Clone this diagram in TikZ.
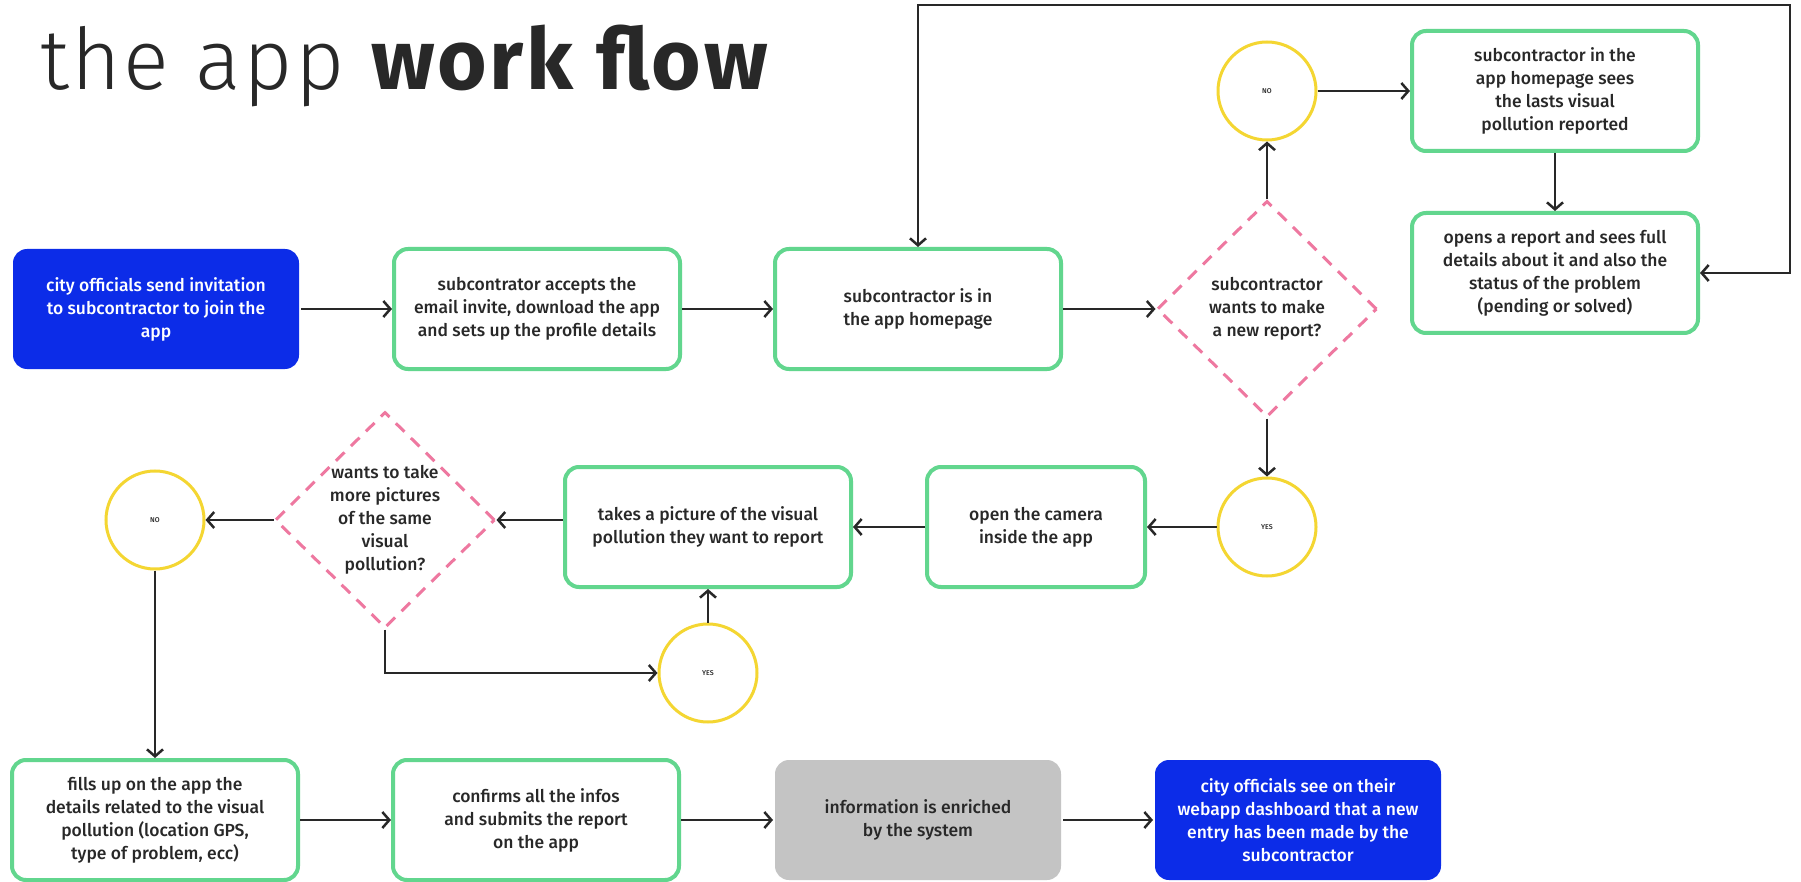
\documentclass[tikz,border=0pt]{standalone}
\usepackage{fontspec}
\usetikzlibrary{shapes.geometric, arrows.meta}

\IfFontExistsTF{Fira Sans Medium}{\newfontfamily\bodyfont{Fira Sans Medium}}{\newfontfamily\bodyfont{Fira Sans}}
\IfFontExistsTF{Fira Sans Light}{\newfontfamily\titlelight{Fira Sans Light}[LetterSpace=3]}{\newfontfamily\titlelight{Fira Sans}[LetterSpace=3]}
\newfontfamily\titlefont{Fira Sans}[LetterSpace=3]

\definecolor{flowblue}{RGB}{12,44,232}
\definecolor{flowgreen}{RGB}{98,214,142}
\definecolor{flowpink}{RGB}{238,120,160}
\definecolor{flowyellow}{RGB}{244,214,50}
\definecolor{flowgrey}{RGB}{196,196,196}
\definecolor{textdark}{RGB}{40,40,40}

\newcommand\boxtext{\bodyfont\fontsize{17.5}{23}\selectfont}
\newcommand\answertext{\bodyfont\fontsize{7}{8}\selectfont}

\begin{document}
\begin{tikzpicture}[x=1pt, y=-1pt,
        box/.style={rectangle, rounded corners=14pt, draw=flowgreen, line width=4pt, fill=white, minimum width=286pt, minimum height=120pt, align=center, text=textdark, font=\boxtext},
        officials/.style={box, draw=none, fill=flowblue, text=white},
        system/.style={box, draw=none, fill=flowgrey},
        decision/.style={diamond, draw=flowpink, dash pattern=on 12pt off 9pt, line width=3pt, minimum width=220pt, minimum height=216pt, inner sep=-10pt, align=center, text=textdark, font=\boxtext},
        answer/.style={circle, draw=flowyellow, line width=3pt, minimum size=98pt, inner sep=0pt, text=textdark, font=\answertext},
        connection/.style={->, line width=2.5pt, draw=textdark},
        >={Straight Barb[length=7pt, width=16pt]}
    ]

    \fill[white] (0,0) rectangle (1801,882);

    % Title
    \node[anchor=base west, text=textdark, inner sep=0pt] (title) at (40,90) {\titlelight\fontsize{85}{85}\selectfont the app {\titlefont\bfseries work flow}};

    % Row 1
    \node[officials] (invite) at (156,309) {city officials send invitation\\to subcontractor to join the\\app};
    \node[box] (accept) at (537,309) {subcontrator accepts the\\email invite, download the app\\and sets up the profile details};
    \node[box] (home) at (918,309) {subcontractor is in\\the app homepage};
    \node[decision] (newreport) at (1267,309) {subcontractor\\wants to make\\a new report?};
    \node[answer] (no1) at (1267,91) {NO};
    \node[box] (latest) at (1555,91) {subcontractor in the\\app homepage sees\\the lasts visual\\pollution reported};
    \node[box] (details) at (1555,273) {opens a report and sees full\\details about it and also the\\status of the problem\\(pending or solved)};
    \coordinate (loop) at (1790,5);

    % Row 2
    \node[answer] (yes1) at (1267,527) {YES};
    \node[box, minimum width=218pt] (camera) at (1036,527) {open the camera\\inside the app};
    \node[box] (picture) at (708,527) {takes a picture of the visual\\pollution they want to report};
    \node[decision] (more) at (385,520) {wants to take\\more pictures\\of the same\\visual\\pollution?};
    \node[answer] (no2) at (155,520) {NO};
    \node[answer] (yes2) at (708,673) {YES};

    % Row 3
    \node[box] (fill) at (155,820) {fills up on the app the\\details related to the visual\\pollution (location GPS,\\type of problem, ecc)};
    \node[box] (confirm) at (536,820) {confirms all the infos\\and submits the report\\on the app};
    \node[system] (enrich) at (918,820) {information is enriched\\by the system};
    \node[officials] (dashboard) at (1298,820) {city officials see on their\\webapp dashboard that a new\\entry has been made by the\\subcontractor};

    % Connections: Row 1
    \draw[connection] (invite.east) -- (accept.west);
    \draw[connection] (accept.east) -- (home.west);
    \draw[connection] (home.east) -- (newreport.west);
    \draw[connection] (newreport.north) -- (no1.south);
    \draw[connection] (no1.east) -- (latest.west);
    \draw[connection] (latest.south) -- (details.north);
    \draw[connection, <->] (details.east) -| (loop) -| (home.north);

    % Connections: Row 2
    \draw[connection] (newreport.south) -- (yes1.north);
    \draw[connection] (yes1.west) -- (camera.east);
    \draw[connection] (camera.west) -- (picture.east);
    \draw[connection] (picture.west |- more.east) -- (more.east);
    \draw[connection] (more.west) -- (no2.east);
    \draw[connection] (more.south) |- (yes2.west);
    \draw[connection] (yes2.north) -- (picture.south);
    \draw[connection] (no2.south) -- (fill.north);

    % Connections: Row 3
    \draw[connection] (fill.east) -- (confirm.west);
    \draw[connection] (confirm.east) -- (enrich.west);
    \draw[connection] (enrich.east) -- (dashboard.west);

\end{tikzpicture}
\end{document}
